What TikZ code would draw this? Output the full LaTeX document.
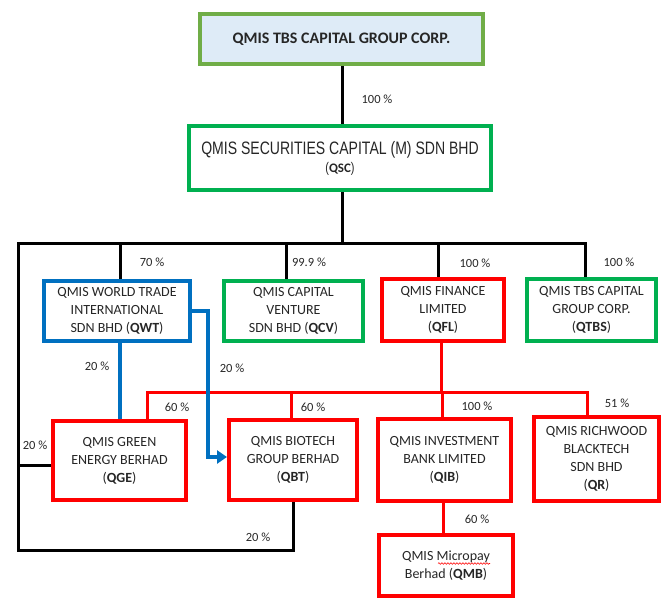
\documentclass[tikz,border=0pt]{standalone}
\usepackage{fontspec}
\newfontfamily\calibri{Carlito}
\newfontfamily\arialn[FakeStretch=0.78]{Liberation Sans}
\usetikzlibrary{arrows.meta,decorations.pathmorphing,calc}
\definecolor{lgreen}{HTML}{70AD47}
\definecolor{mgreen}{HTML}{00B050}
\definecolor{mred}{HTML}{FF0000}
\definecolor{mblue}{HTML}{0070C0}
\definecolor{lblue}{HTML}{DEEBF7}
\definecolor{txt}{HTML}{262626}
\begin{document}
\begin{tikzpicture}[x=1pt,y=-1pt,
 box/.style={draw, line width=4pt, align=center, inner sep=0pt, text=txt,
   font=\calibri\fontsize{14}{18}\selectfont},
 gbox/.style={box, draw=mgreen},
 rbox/.style={box, draw=mred},
 bbox/.style={box, draw=mblue},
 pct/.style={font=\calibri\fontsize{12.5}{14}\selectfont, text=txt, inner sep=0pt},
 blk/.style={line width=3pt, draw=black},
 redl/.style={line width=3pt, draw=mred},
 bluel/.style={line width=4pt, draw=mblue}]
\useasboundingbox (0,0) rectangle (667,610);

% boxes
\node[box, draw=lgreen, fill=lblue, minimum width=283pt, minimum height=50pt,
  font=\calibri\bfseries\fontsize{16}{18}\selectfont] (top) at (341.5,39) {QMIS TBS CAPITAL GROUP CORP.};
\node[gbox, minimum width=302pt, minimum height=64pt] (QSC) at (340,158)
  {{\arialn\fontsize{18}{19}\selectfont QMIS SECURITIES CAPITAL (M) SDN BHD}\\
   {\arialn\fontsize{14}{19}\selectfont (}{\calibri\bfseries\fontsize{13}{19}\selectfont QSC}{\arialn\fontsize{14}{19}\selectfont )}};
\node[bbox, minimum width=146pt, minimum height=60pt] (QWT) at (117,311)
  {QMIS WORLD TRADE\\INTERNATIONAL\\SDN BHD (\textbf{QWT})};
\node[gbox, minimum width=139pt, minimum height=60pt] (QCV) at (293.5,311)
  {QMIS CAPITAL\\VENTURE\\SDN BHD (\textbf{QCV})};
\node[rbox, minimum width=122pt, minimum height=62pt] (QFL) at (443,310)
  {QMIS FINANCE\\LIMITED\\(\textbf{QFL})};
\node[gbox, minimum width=129pt, minimum height=62pt] (QTBS) at (591.5,310)
  {QMIS TBS CAPITAL\\GROUP CORP.\\(\textbf{QTBS})};
\node[rbox, minimum width=133pt, minimum height=79pt] (QGE) at (119.5,460.5)
  {QMIS GREEN\\ENERGY BERHAD\\(\textbf{QGE})};
\node[rbox, minimum width=128pt, minimum height=80pt] (QBT) at (293,460)
  {QMIS BIOTECH\\GROUP BERHAD\\(\textbf{QBT})};
\node[rbox, minimum width=133pt, minimum height=82pt] (QIB) at (444.5,460)
  {QMIS INVESTMENT\\BANK LIMITED\\(\textbf{QIB})};
\node[rbox, minimum width=125pt, minimum height=84pt] (QR) at (596.5,459)
  {QMIS RICHWOOD\\BLACKTECH\\SDN BHD\\(\textbf{QR})};
\node[rbox, minimum width=134pt, minimum height=61pt] (QMB) at (446,565.5)
  {QMIS Micropay\\Berhad (\textbf{QMB})};
\draw[mred, line width=0.6pt, decorate, decoration={snake, amplitude=0.8pt, segment length=3pt}]
  (438,563.5) -- (490,563.5);

% black connectors
\coordinate (bm) at (342,243);
\coordinate (busL) at (18,243);
\coordinate (busR) at (585,243);
\coordinate (bQWT) at (120,243);
\coordinate (bQCV) at (286,243);
\coordinate (bQFL) at (438,243);
\coordinate (lc) at (18,550);
\coordinate (bc) at (293,550);
\coordinate (gl) at (18,465);
\draw[blk] (bm |- top.south) -- (bm |- QSC.north);
\draw[blk] (bm |- QSC.south) -- (bm);
\draw[blk] (busR |- QTBS.north) -- (busR) -- (busL) -- (lc) -- (bc) -- (bc |- QBT.south);
\draw[blk] (bQWT) -- (bQWT |- QWT.north);
\draw[blk] (bQCV) -- (bQCV |- QCV.north);
\draw[blk] (bQFL) -- (bQFL |- QFL.north);
\draw[blk] (gl) -- (gl -| QGE.west);

% red connectors
\coordinate (rq) at (441,392);
\coordinate (rL) at (147,392);
\coordinate (rR) at (587,392);
\coordinate (rQBT) at (291,392);
\coordinate (rQIB) at (442,392);
\draw[redl] (rq |- QFL.south) -- (rq);
\draw[redl] (rL |- QGE.north) -- (rL) -- (rR) -- (rR |- QR.north);
\draw[redl] (rQBT) -- (rQBT |- QBT.north);
\draw[redl] (rQIB) -- (rQIB |- QIB.north);
\coordinate (mq) at (443,510);
\draw[redl] (mq |- QIB.south) -- (mq |- QMB.north);

% blue connectors
\coordinate (bl) at (120,380);
\coordinate (bj) at (208,311);
\draw[bluel] (bl |- QWT.south) -- (bl |- QGE.north);
\draw[bluel, -{Triangle[width=13pt,length=10pt]}] (QWT.east) -- (bj) |- ($(QBT.west)+(0,-3)$);

% labels
\node[pct] (p1) at (377,99) {100 \%};
\node[pct] (p2) at (152,262) {70 \%};
\node[pct] (p3) at (309,262) {99.9 \%};
\node[pct] (p4) at (475,263) {100 \%};
\node[pct] (p5) at (619,262) {100 \%};
\node[pct] (p6) at (97,366) {20 \%};
\node[pct] (p7) at (232,368) {20 \%};
\node[pct] (p8) at (177,407) {60 \%};
\node[pct] (p9) at (313,407) {60 \%};
\node[pct] (p10) at (477,406) {100 \%};
\node[pct] (p11) at (617,403) {51 \%};
\node[pct] (p12) at (35,445) {20 \%};
\node[pct] (p13) at (258,537) {20 \%};
\node[pct] (p14) at (477,519) {60 \%};
\end{tikzpicture}
\end{document}
